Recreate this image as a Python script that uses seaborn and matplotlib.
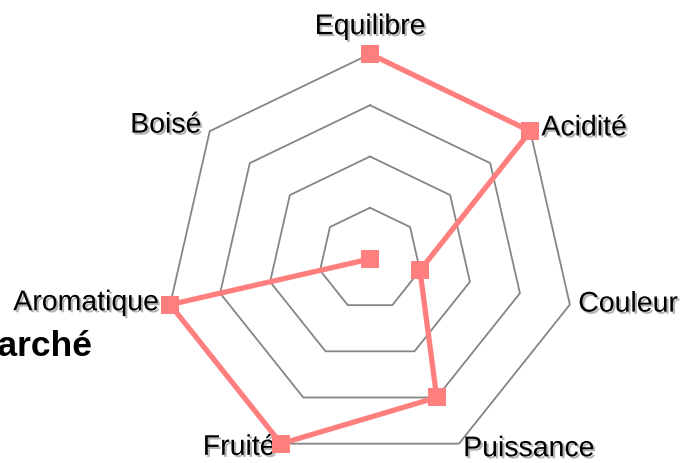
import numpy as np
import seaborn as sns
import matplotlib.pyplot as plt
import matplotlib.patheffects as pe

categories = ['Equilibre', 'Acidité', 'Couleur', 'Puissance', 'Fruité', 'Aromatique', 'Boisé']
scores = [4, 4, 1, 3, 4, 4, 0]
ring_levels = [1, 2, 3, 4]

sns.set_style('white')
plt.rcParams['font.family'] = ['Liberation Sans', 'DejaVu Sans']

fig = plt.figure(figsize=(6.83, 4.64), dpi=100)
ax = fig.add_axes([0.2416, -0.0021, 0.6003, 0.8836], projection='polar')
ax.set_theta_zero_location('N')
ax.set_theta_direction(-1)

n = len(categories)
theta = np.linspace(0, 2 * np.pi, n, endpoint=False)
theta_closed = np.append(theta, theta[0])

# heptagon rings instead of circles
for lvl in ring_levels:
    ax.plot(theta_closed, [lvl] * (n + 1), color='#858585', lw=1.3, zorder=1, clip_on=False)

sns.lineplot(x=theta_closed, y=scores + [scores[0]], ax=ax, sort=False,
             color='#FF7F7F', lw=3.8, marker='s', markersize=13,
             markeredgewidth=0, zorder=5, clip_on=False)

ax.set_ylim(0, 4)
ax.grid(False)
ax.spines['polar'].set_visible(False)
ax.set_xticks([])
ax.set_yticks([])
ax.set_xlabel('')
ax.set_ylabel('')

shadow = [pe.SimplePatchShadow(offset=(1.5, -1.5), shadow_rgbFace='#555555', alpha=0.45), pe.Normal()]
# label placement: (ha, va, dx, dy) offsets in points
placement = {
    'Equilibre': ('center', 'bottom', 0, 10),
    'Acidité': ('left', 'center', 8, 2),
    'Couleur': ('left', 'center', 6, 0),
    'Puissance': ('left', 'center', 3, -4),
    'Fruité': ('right', 'center', -4, -3),
    'Aromatique': ('right', 'center', -8, 1),
    'Boisé': ('right', 'center', -6, 4),
}
for t, lab in zip(theta, categories):
    ha, va, dx, dy = placement[lab]
    ax.annotate(lab, (t, 4), xytext=(dx, dy), textcoords='offset points',
                ha=ha, va=va, fontsize=20.5, color='black',
                path_effects=shadow, annotation_clip=False, zorder=3)

fig.text(-0.046, 0.232, 'Marché', fontsize=25.5, fontweight='bold', color='black',
         ha='left', va='baseline')

plt.savefig('out.png', dpi=100)
